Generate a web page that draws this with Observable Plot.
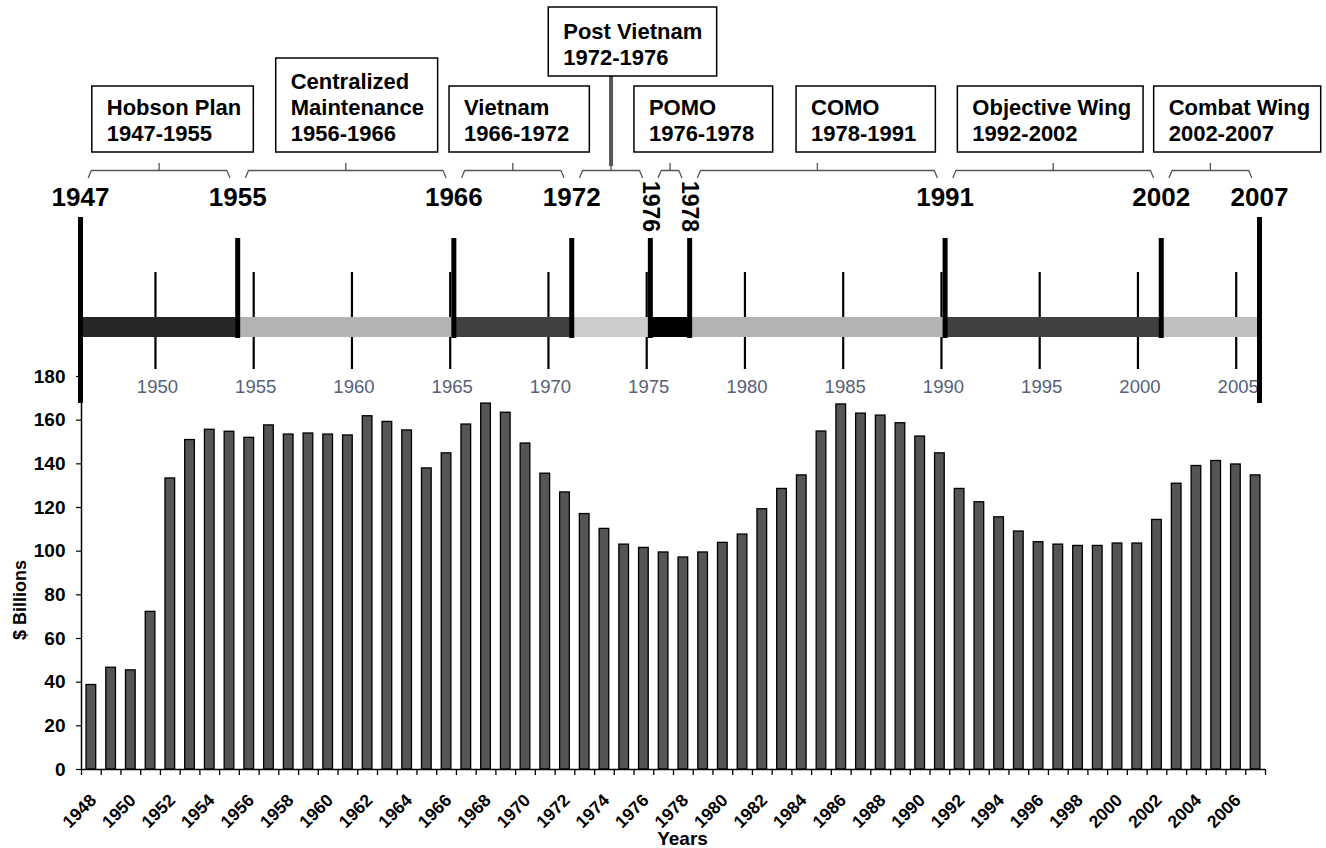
<!DOCTYPE html>
<html>
<head>
<meta charset="utf-8">
<script src="https://cdn.jsdelivr.net/npm/d3@7"></script>
<script src="https://cdn.jsdelivr.net/npm/@observablehq/plot@0.6"></script>
<style>
  html, body { margin: 0; padding: 0; background: #ffffff; }
  #wrap { position: relative; width: 1326px; height: 848px; overflow: hidden; background: #ffffff; }
  #wrap svg { position: absolute; left: 0; top: 0; }
</style>
</head>
<body>
<div id="wrap"></div>
<script>
// ================= DATA =================
const years = [1948,1949,1950,1951,1952,1953,1954,1955,1956,1957,1958,1959,1960,1961,1962,1963,1964,1965,1966,1967,
               1968,1969,1970,1971,1972,1973,1974,1975,1976,1977,1978,1979,1980,1981,1982,1983,1984,1985,1986,1987,
               1988,1989,1990,1991,1992,1993,1994,1995,1996,1997,1998,1999,2000,2001,2002,2003,2004,2005,2006,2007];
const values = [38.7,46.6,45.4,72.2,133.3,150.9,155.6,154.7,151.9,157.6,153.4,153.9,153.4,153.0,161.8,159.2,155.3,137.9,144.8,158.0,
                167.6,163.4,149.3,135.5,126.9,117.0,110.2,103.0,101.5,99.4,97.1,99.4,103.8,107.6,119.2,128.5,134.7,154.8,167.2,163.0,
                162.1,158.6,152.5,144.8,128.5,122.4,115.5,109.0,104.1,103.0,102.4,102.4,103.5,103.5,114.3,130.9,139.0,141.3,139.7,134.7];
const xLabelYears = [1948,1950,1952,1954,1956,1958,1960,1962,1964,1966,1968,1970,1972,1974,1976,1978,1980,1982,1984,1986,
                     1988,1990,1992,1994,1996,1998,2000,2002,2004,2006];
const yTicks = [0,20,40,60,80,100,120,140,160,180];
const yTitle = "$ Billions";
const xTitle = "Years";

const periodNames  = ["Hobson Plan", "Centralized\nMaintenance", "Vietnam", "Post Vietnam", "POMO", "COMO", "Objective Wing", "Combat Wing"];
const periodRanges = ["1947-1955", "1956-1966", "1966-1972", "1972-1976", "1976-1978", "1978-1991", "1992-2002", "2002-2007"];
const periodStart  = [1947, 1955, 1966, 1972, 1976, 1978, 1991, 2002];
const periodEnd    = [1955, 1966, 1972, 1976, 1978, 1991, 2002, 2007];
const boundaryYears = [1947, 1955, 1966, 1972, 1976, 1978, 1991, 2002, 2007];
const minorYears = [1950,1955,1960,1965,1970,1975,1980,1985,1990,1995,2000,2005];

// ================= STYLE / LAYOUT =================
const FONT = "'Liberation Sans', Arial, Helvetica, sans-serif";
const periodFills = ["#262626", "#b3b3b3", "#404040", "#cccccc", "#000000", "#b3b3b3", "#404040", "#bfbfbf"];
// annotation box placement (in timeline years) and tier
const boxX1 = [1947.60, 1956.96, 1965.78, 1970.83, 1975.19, 1983.44, 1991.65, 2001.64];
const boxX2 = [1955.82, 1965.20, 1972.92, 1979.40, 1982.25, 1990.53, 2001.10, 2010.14];
const boxTier = ["mid", "tall", "mid", "high", "mid", "mid", "mid", "mid"];
const TIERS = { high: {top: 7, bottom: 76}, tall: {top: 58, bottom: 152}, mid: {top: 86, bottom: 152} };
const ROW = {
  braceNotch: 163, braceLine: 170, braceEnd: 177,
  label: 197, rotLabel: 206,
  edgeTop: 217, edgeBottom: 403,
  lineTop: 238, lineBottom: 338,
  bandTop: 317, bandBottom: 337,
  minorTop: 272, minorBottom: 369, minorLabel: 387
};
const rotatedYears = [1976, 1978];
const connectorPeriod = "Post Vietnam";
const BAR_HALF = 0.245;
const BRACE_INSET = 0.4;

// ================= BAR CHART =================
const bars = years.map((year, i) => ({year, value: values[i]}));
const boundaries = years.map(y => y - 0.5).concat([years[years.length - 1] + 0.5]);

const barChart = Plot.plot({
  width: 1326,
  height: 848,
  marginTop: 376,
  marginBottom: 79,
  marginLeft: 81,
  marginRight: 61,
  style: {fontFamily: FONT, background: "transparent", overflow: "visible", color: "#000"},
  x: {domain: [years[0] - 0.5, years[years.length - 1] + 0.5]},
  y: {domain: [0, 180]},
  marks: [
    Plot.rectY(bars, {
      x1: d => d.year - BAR_HALF, x2: d => d.year + BAR_HALF,
      y1: 0, y2: "value",
      fill: "#555555", stroke: "#000000", strokeWidth: 1.3
    }),
    Plot.axisY({ticks: yTicks, tickSize: 5, tickPadding: 11, fontSize: 19, fontWeight: "bold", label: null, tickFormat: d => String(d), strokeWidth: 1.2}),
    Plot.axisX({ticks: boundaries, tickSize: 6, tickFormat: () => "", label: null, strokeWidth: 1.3}),
    Plot.ruleX([years[0] - 0.5], {stroke: "#000", strokeWidth: 1.5}),
    Plot.ruleY([0], {stroke: "#000", strokeWidth: 1.5}),
    Plot.text(xLabelYears, {
      x: d => d, y: 0, text: d => String(d),
      rotate: -45, textAnchor: "end", lineAnchor: "middle",
      dx: 2, dy: 28, fontSize: 17.5, fontWeight: "bold", fill: "#000"
    }),
    Plot.text([xTitle], {frameAnchor: "bottom", textAnchor: "middle", lineAnchor: "middle", dx: 9, dy: 69, fontSize: 19, fontWeight: "bold", fill: "#000"}),
    Plot.text([yTitle], {frameAnchor: "left", rotate: -90, textAnchor: "middle", lineAnchor: "middle", dx: -61, dy: 27, fontSize: 18, fontWeight: "bold", fill: "#000"})
  ]
});

// ================= TIMELINE =================
const periods = periodNames.map((name, i) => ({
  name, range: periodRanges[i], start: periodStart[i], end: periodEnd[i],
  mid: (periodStart[i] + periodEnd[i]) / 2, fill: periodFills[i]
}));
const boxes = periods.map((p, i) => ({...p, x1: boxX1[i], x2: boxX2[i], ...TIERS[boxTier[i]]}));
const braces = periods.flatMap(p => [
  {name: p.name, x: p.start + BRACE_INSET, y: ROW.braceEnd},
  {name: p.name, x: p.start + BRACE_INSET + 0.15, y: ROW.braceLine},
  {name: p.name, x: p.end - BRACE_INSET - 0.15, y: ROW.braceLine},
  {name: p.name, x: p.end - BRACE_INSET, y: ROW.braceEnd}
]);
const edgeYears = [boundaryYears[0], boundaryYears[boundaryYears.length - 1]];
const innerYears = boundaryYears.slice(1, -1);
const flatLabelYears = boundaryYears.filter(y => !rotatedYears.includes(y));
const connector = periods.filter(p => p.name === connectorPeriod);
const connectorBox = boxes.filter(b => b.name === connectorPeriod);

const timeline = Plot.plot({
  width: 1326,
  height: 410,
  marginTop: 0, marginBottom: 0, marginLeft: 80, marginRight: 67,
  style: {fontFamily: FONT, background: "transparent", overflow: "visible", color: "#000"},
  x: {domain: [1947, 2007], axis: null},
  y: {domain: [0, 410], range: [0, 410], axis: null},
  marks: [
    // minor 5-year ticks and labels
    Plot.ruleX(minorYears, {x: d => d, y1: ROW.minorTop, y2: ROW.minorBottom, dx: 16, stroke: "#000", strokeWidth: 2.2}),
    Plot.text(minorYears, {x: d => d, y: ROW.minorLabel, text: d => String(d), dx: 18, fill: "#56607a", fontSize: 18.5}),
    // period band
    Plot.rect(periods, {x1: "start", x2: "end", y1: ROW.bandTop, y2: ROW.bandBottom, fill: "fill"}),
    // boundary lines
    Plot.ruleX(innerYears, {x: d => d, y1: ROW.lineTop, y2: ROW.lineBottom, stroke: "#000", strokeWidth: 5}),
    Plot.ruleX(edgeYears, {x: d => d, y1: ROW.edgeTop, y2: ROW.edgeBottom, stroke: "#000", strokeWidth: 5}),
    // boundary year labels
    Plot.text(flatLabelYears, {x: d => d, y: ROW.label, text: d => String(d), fontSize: 26, fontWeight: "bold", fill: "#000"}),
    Plot.text(rotatedYears, {x: d => d, y: ROW.rotLabel, text: d => String(d), rotate: 90, fontSize: 23, fontWeight: "bold", fill: "#000"}),
    // braces
    Plot.line(braces, {x: "x", y: "y", z: "name", stroke: "#555", strokeWidth: 1.3}),
    Plot.ruleX(periods, {x: "mid", y1: ROW.braceNotch, y2: ROW.braceLine, stroke: "#555", strokeWidth: 1.3}),
    // connector from upper box to its brace
    Plot.ruleX(connector, {x: "mid", y1: connectorBox[0].bottom, y2: ROW.braceNotch + 3, stroke: "#555", strokeWidth: 4}),
    // annotation boxes
    Plot.rect(boxes, {x1: "x1", x2: "x2", y1: "top", y2: "bottom", fill: "#ffffff", stroke: "#000", strokeWidth: 1.5}),
    Plot.text(boxes, {
      x: "x1", y: d => d.bottom - 12, text: d => d.name + "\n" + d.range,
      textAnchor: "start", lineAnchor: "bottom", lineHeight: 1.18,
      dx: 14.5, fontSize: 22, fontWeight: "bold", fill: "#000"
    })
  ]
});

const wrap = document.getElementById("wrap");
wrap.appendChild(barChart);
wrap.appendChild(timeline);
</script>
</body>
</html>
